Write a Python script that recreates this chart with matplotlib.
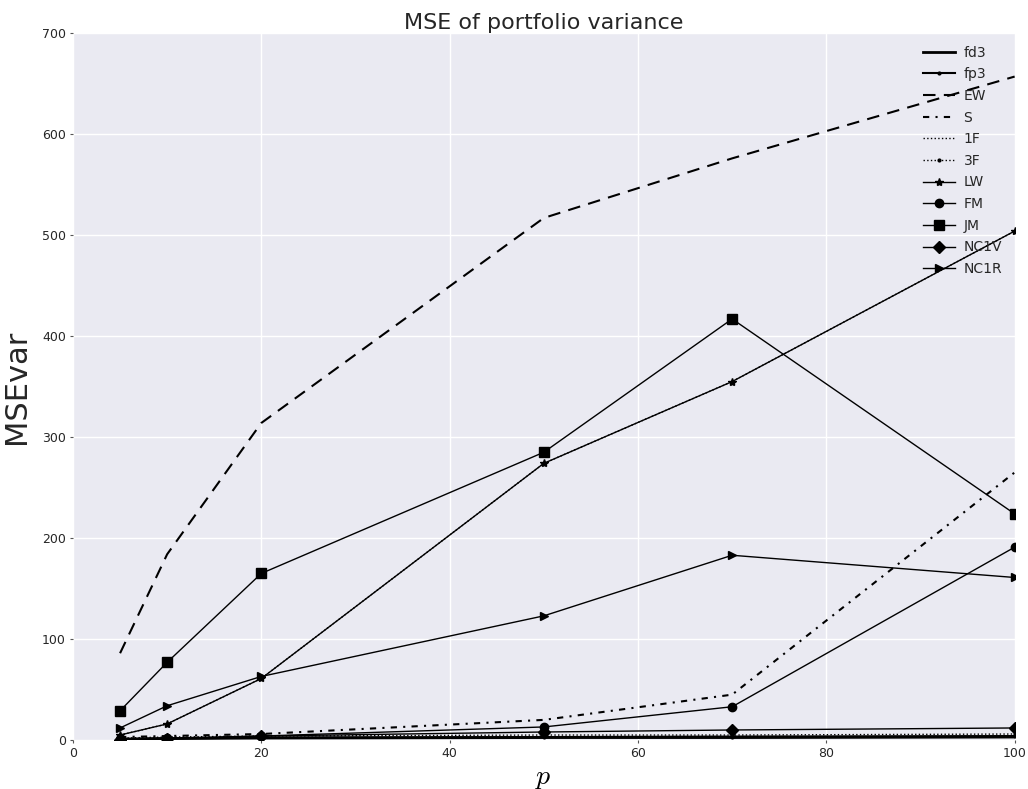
import matplotlib.pyplot as plt
import numpy as np

plt.rcParams['mathtext.fontset'] = 'cm'

p = [5, 10, 20, 50, 70, 100]

fd3 = [1, 1.5, 2, 2.5, 2.5, 3]
fp3 = [1, 1.5, 2.5, 3, 3.5, 4]
EW = [86, 184, 314, 517, 576, 657]
S = [3, 4, 6, 20, 45, 265]
F1 = [5, 16, 61, 274, 355, 504]
F3 = [2, 3, 4, 5, 5, 6]
LW = [5, 16, 61, 274, 355, 504]
FM = [1, 2, 4, 13, 33, 191]
JM = [29, 77, 165, 285, 417, 224]
NC1V = [0.5, 1, 4, 8, 10, 12]
NC1R = [12, 34, 63, 123, 183, 161]

fig = plt.figure(figsize=(10.28, 7.89), dpi=100)
ax = fig.add_axes([0.071, 0.062, 0.916, 0.896])
ax.set_facecolor('#EAEAF2')
for s in ax.spines.values():
    s.set_visible(False)
ax.grid(True, color='white', linewidth=1)
ax.set_axisbelow(True)

k = 'black'
ax.plot(p, fd3, color=k, lw=2, label='fd3')
ax.plot(p, fp3, color=k, lw=1.5, marker='.', ms=4, label='fp3')
ax.plot(p, EW, color=k, lw=1.5, ls='--', dashes=(6, 4), label='EW')
ax.plot(p, S, color=k, lw=1.5, ls='-.', dashes=(3, 3, 1, 3), label='S')
ax.plot(p, F1, color=k, lw=1, ls=':', label='1F')
ax.plot(p, F3, color=k, lw=1, ls=':', marker='.', ms=4, label='3F')
ax.plot(p, LW, color=k, lw=1, marker='*', ms=6, label='LW')
ax.plot(p, FM, color=k, lw=1, marker='o', ms=6, label='FM')
ax.plot(p, JM, color=k, lw=1, marker='s', ms=7, label='JM')
ax.plot(p, NC1V, color=k, lw=1, marker='D', ms=6, label='NC1V')
ax.plot(p, NC1R, color=k, lw=1, marker='>', ms=6, label='NC1R')

ax.set_xlim(0, 100)
ax.set_ylim(0, 700)
ax.set_xticks(np.arange(0, 101, 20))
ax.set_yticks(np.arange(0, 701, 100))
ax.tick_params(length=2, color='#555555', labelsize=9, labelcolor='#262626', pad=3)

ax.set_title('MSE of portfolio variance', fontsize=16, color='#262626', pad=3)
ax.set_ylabel('MSEvar', fontsize=22, color='#262626', labelpad=8)
ax.set_xlabel('$p$', fontsize=20, labelpad=2)

ax.legend(loc='upper right', frameon=False, fontsize=10, handlelength=2.3,
          handletextpad=0.6, labelspacing=0.55, borderaxespad=0.5,
          labelcolor='#262626')

fig.savefig('out.png', dpi=100)
